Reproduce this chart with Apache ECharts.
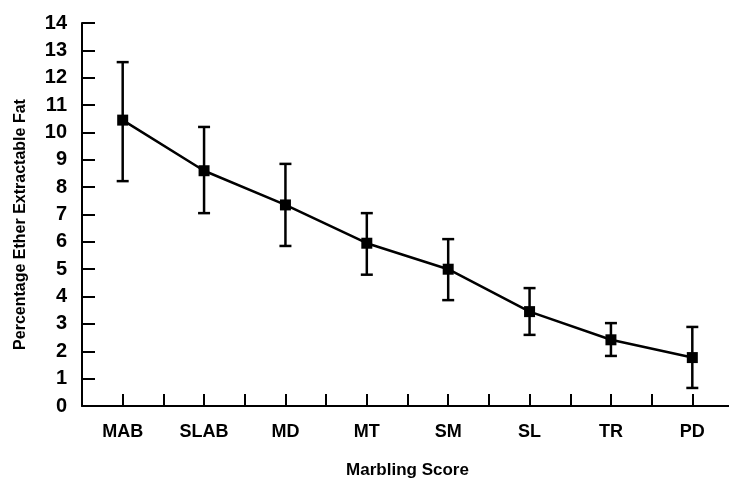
<!DOCTYPE html>
<html>
<head>
<meta charset="utf-8">
<script src="https://cdn.jsdelivr.net/npm/echarts@6/dist/echarts.min.js"></script>
<style>
  html, body { margin: 0; padding: 0; background: #fff; }
  #chart { width: 729px; height: 480px; }
</style>
</head>
<body>
<div id="chart"></div>
<script>
// marbling score categories and read-off means with error bar limits
var categories = ['MAB', 'SLAB', 'MD', 'MT', 'SM', 'SL', 'TR', 'PD']
var means = [10.45, 8.6, 7.35, 5.95, 5.0, 3.45, 2.42, 1.77]
var upper = [12.57, 10.2, 8.85, 7.05, 6.1, 4.31, 3.03, 2.89]
var lower = [8.22, 7.05, 5.85, 4.8, 3.87, 2.6, 1.83, 0.66]

var font = "'Liberation Sans', Arial, sans-serif"

var chart = echarts.init(document.getElementById('chart'))

chart.setOption({
  animation: false,
  grid: {
    left: 82,
    right: -4,
    top: 23,
    bottom: 74,
    outerBoundsMode: 'none'
  },
  xAxis: {
    type: 'value',
    min: -0.5,
    max: 7.5,
    interval: 0.5,
    splitLine: { show: false },
    axisLine: { onZero: false, lineStyle: { color: '#000', width: 2 } },
    axisTick: { inside: true, length: 12, lineStyle: { color: '#000', width: 2 } },
    axisLabel: {
      margin: 17,
      color: '#000',
      fontFamily: font,
      fontWeight: 'bold',
      fontSize: 18,
      formatter: function (v) {
        return Number.isInteger(v) && categories[v] ? categories[v] : ''
      }
    },
    name: 'Marbling Score',
    nameLocation: 'middle',
    nameGap: 56,
    nameTextStyle: { color: '#000', fontFamily: font, fontWeight: 'bold', fontSize: 17 }
  },
  yAxis: {
    type: 'value',
    min: 0,
    max: 14,
    interval: 1,
    splitLine: { show: false },
    axisLine: { show: true, onZero: false, lineStyle: { color: '#000', width: 2 } },
    axisTick: { show: true, inside: true, length: 13, lineStyle: { color: '#000', width: 2 } },
    axisLabel: {
      margin: 15,
      color: '#000',
      fontFamily: font,
      fontWeight: 'bold',
      fontSize: 20
    },
    name: 'Percentage Ether Extractable Fat',
    nameLocation: 'middle',
    nameGap: 53,
    nameTextStyle: { color: '#000', fontFamily: font, fontWeight: 'bold', fontSize: 16, padding: [0, 20, 0, 0] }
  },
  series: [
    {
      type: 'custom',
      renderItem: function (params, api) {
        var x = api.value(0)
        var hi = api.coord([x, api.value(1)])
        var lo = api.coord([x, api.value(2)])
        var w = 6
        var style = { stroke: '#000', lineWidth: 2.5 }
        return {
          type: 'group',
          children: [
            { type: 'line', shape: { x1: hi[0], y1: hi[1], x2: lo[0], y2: lo[1] }, style: style },
            { type: 'line', shape: { x1: hi[0] - w, y1: hi[1], x2: hi[0] + w, y2: hi[1] }, style: style },
            { type: 'line', shape: { x1: lo[0] - w, y1: lo[1], x2: lo[0] + w, y2: lo[1] }, style: style }
          ]
        }
      },
      data: categories.map(function (c, i) { return [i, upper[i], lower[i]] }),
      z: 2
    },
    {
      type: 'line',
      data: categories.map(function (c, i) { return [i, means[i]] }),
      symbol: 'rect',
      symbolSize: 11,
      itemStyle: { color: '#000' },
      lineStyle: { color: '#000', width: 2.5 },
      z: 3
    }
  ]
})
</script>
</body>
</html>
